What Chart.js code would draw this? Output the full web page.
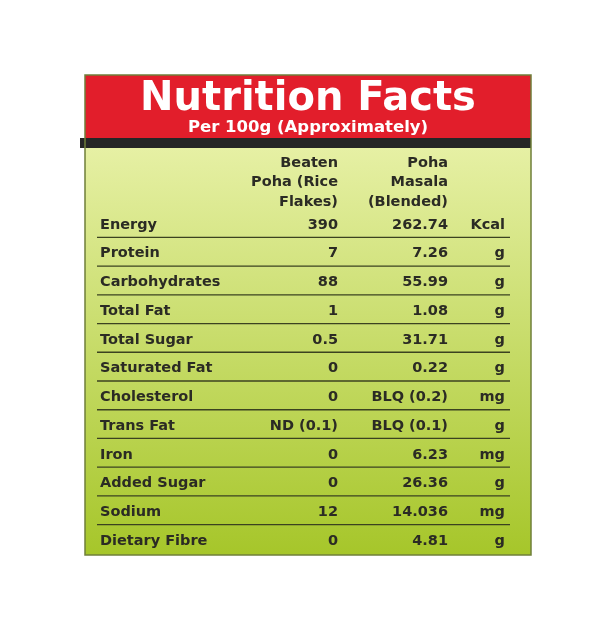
<!DOCTYPE html>
<html><head><meta charset="utf-8">
<script src="https://cdn.jsdelivr.net/npm/chart.js@4"></script>
<style>html,body{margin:0;padding:0;background:#fff}</style>
</head><body>
<canvas id="c" width="600" height="630"></canvas>
<script>
const title = "Nutrition Facts";
const subtitle = "Per 100g (Approximately)";
const colHeaders = [["Beaten","Poha (Rice","Flakes)"],["Poha","Masala","(Blended)"]];
const nutrients = ["Energy","Protein","Carbohydrates","Total Fat","Total Sugar","Saturated Fat","Cholesterol","Trans Fat","Iron","Added Sugar","Sodium","Dietary Fibre"];
const pohaValues = ["390","7","88","1","0.5","0","0","ND (0.1)","0","0","12","0"];
const masalaValues = ["262.74","7.26","55.99","1.08","31.71","0.22","BLQ (0.2)","BLQ (0.1)","6.23","26.36","14.036","4.81"];
const units = ["Kcal","g","g","g","g","g","mg","g","mg","g","mg","g"];

const COL_ANCHORS = [0, 238, 348, 405];
const FONT = '"DejaVu Sans", Verdana, sans-serif';
const tablePlugin = {
  id: 'table',
  beforeDraw(chart) {
    const ctx = chart.ctx;
    ctx.save();
    const g = ctx.createLinearGradient(0, 148, 0, 555);
    g.addColorStop(0, '#e6f0a4');
    g.addColorStop(1, '#a6c62a');
    ctx.fillStyle = g;
    ctx.fillRect(85, 75, 446, 480);
    ctx.fillStyle = '#e21e2b';
    ctx.fillRect(85, 75, 446, 63);
    ctx.fillStyle = '#262626';
    ctx.fillRect(80, 138, 451, 10);
    ctx.strokeStyle = '#6f7f3a';
    ctx.lineWidth = 1.5;
    ctx.strokeRect(85, 75, 446, 480);
    ctx.fillStyle = '#ffffff';
    ctx.textAlign = 'center';
    ctx.textBaseline = 'alphabetic';
    ctx.font = 'bold 40px ' + FONT;
    ctx.fillText(title, 308, 110, 401);
    ctx.font = 'bold 16.5px ' + FONT;
    ctx.fillText(subtitle, 308, 132, 305);
    ctx.restore();
  },
  afterDraw(chart) {
    const ctx = chart.ctx, y = chart.scales.y, x = chart.scales.x;
    ctx.save();
    ctx.fillStyle = '#2b2b24';
    ctx.font = 'bold 14.5px ' + FONT;
    ctx.textBaseline = 'middle';
    const colX = COL_ANCHORS.map(v => x.getPixelForValue(v));
    ctx.textAlign = 'right';
    colHeaders.forEach((h, c) => h.forEach((t, k) => ctx.fillText(t, colX[c+1], 163 + k*19.5)));
    const band = y.getPixelForValue(1) - y.getPixelForValue(0);
    nutrients.forEach((n, i) => {
      const py = y.getPixelForValue(i);
      ctx.textAlign = 'left'; ctx.fillText(n, colX[0], py);
      ctx.textAlign = 'right';
      ctx.fillText(pohaValues[i], colX[1], py);
      ctx.fillText(masalaValues[i], colX[2], py);
      ctx.fillText(units[i], colX[3], py);
      if (i < nutrients.length - 1) {
        ctx.strokeStyle = '#3b4220'; ctx.lineWidth = 1.3;
        ctx.beginPath();
        ctx.moveTo(97, py + band/2 - 2); ctx.lineTo(510, py + band/2 - 2);
        ctx.stroke();
      }
    });
    ctx.restore();
  }
};

new Chart(document.getElementById('c'), {
  type: 'bar',
  data: { labels: nutrients, datasets: [{ data: nutrients.map(() => 0), backgroundColor: 'rgba(0,0,0,0)' }] },
  options: {
    indexAxis: 'y', responsive: false, animation: false,
    layout: { padding: { left: 100, right: 95, top: 210.6, bottom: 74.6 } },
    plugins: { legend: { display: false }, tooltip: { enabled: false } },
    scales: {
      y: { type: 'category', display: false, offset: true },
      x: { type: 'linear', display: false, min: 0, max: 405 }
    }
  },
  plugins: [tablePlugin]
});
</script>
</body></html>
